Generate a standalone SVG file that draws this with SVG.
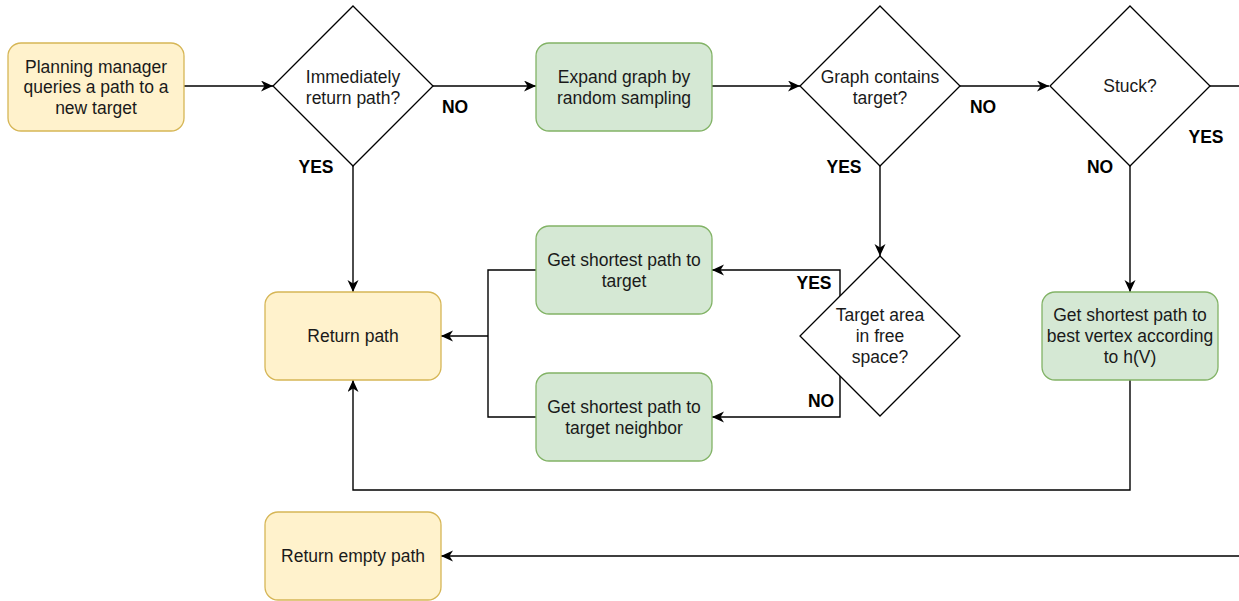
<svg xmlns="http://www.w3.org/2000/svg" width="1239" height="601" viewBox="0 0 1239 601">
<style>
  .y { fill: #fff2cc; stroke: #d6b656; stroke-width: 1.3; }
  .g { fill: #d5e8d4; stroke: #82b366; stroke-width: 1.3; }
  .d { fill: #ffffff; stroke: #000000; stroke-width: 1.3; }
  .t { font-family: "Liberation Sans", Arial, sans-serif; font-size: 17.5px; fill: #1a1a1a; text-anchor: middle; dominant-baseline: central; }
  .l { font-family: "Liberation Sans", Arial, sans-serif; font-size: 17.5px; font-weight: bold; fill: #000; text-anchor: middle; dominant-baseline: central; }
  .c { fill: none; stroke: #000; stroke-width: 1.4; marker-end: url(#arr); }
  .n { fill: none; stroke: #000; stroke-width: 1.4; }
</style>
<defs>
  <marker id="arr" markerUnits="userSpaceOnUse" markerWidth="14" markerHeight="12" refX="12" refY="5.5" orient="auto" viewBox="0 0 14 12">
    <path d="M0,0 L12,5.5 L0,11 L3.5,5.5 Z" fill="#000"/>
  </marker>
</defs>
<rect width="1239" height="601" fill="#ffffff"/>

<g id="connectors">
  <path class="c" d="M184,86 L273,86"/>
  <path class="c" d="M433,86 L536,86"/>
  <path class="c" d="M712,86 L800,86"/>
  <path class="c" d="M960,86 L1049,86"/>
  <path class="c" d="M353,166 L353,292"/>
  <path class="c" d="M880,166 L880,256"/>
  <path class="c" d="M1130,166 L1130,292"/>
  <path class="c" d="M1130,380 L1130,490 L353,490 L353,380"/>
  <path class="c" d="M840,296 L840,270 L712,270"/>
  <path class="c" d="M840,376 L840,417 L712,417"/>
  <path class="n" d="M536,270 L488,270 L488,417 L536,417"/>
  <path class="c" d="M488,336 L441,336"/>
  <path class="c" d="M1210,86 L1260,86 L1260,556 L441,556"/>
</g>

<g id="labels">
  <text class="l" x="455" y="107">NO</text>
  <text class="l" x="316" y="167">YES</text>
  <text class="l" x="844" y="167">YES</text>
  <text class="l" x="983" y="107">NO</text>
  <text class="l" x="1100" y="167">NO</text>
  <text class="l" x="1206" y="137">YES</text>
  <text class="l" x="814" y="283">YES</text>
  <text class="l" x="821" y="401">NO</text>
</g>

<g id="start">
  <rect class="y" x="8" y="43" width="176" height="88" rx="13" ry="13"/>
  <text class="t" x="96" y="66.5">Planning manager</text>
  <text class="t" x="96" y="87">queries a path to a</text>
  <text class="t" x="96" y="107.5">new target</text>
</g>

<g id="immediately">
  <polygon class="d" points="353,6 433,86 353,166 273,86"/>
  <text class="t" x="353" y="76.5">Immediately</text>
  <text class="t" x="353" y="97.5">return path?</text>
</g>

<g id="expand">
  <rect class="g" x="536" y="43" width="176" height="88" rx="13" ry="13"/>
  <text class="t" x="624" y="76.5">Expand graph by</text>
  <text class="t" x="624" y="97.5">random sampling</text>
</g>

<g id="contains">
  <polygon class="d" points="880,6 960,86 880,166 800,86"/>
  <text class="t" x="880" y="76.5">Graph contains</text>
  <text class="t" x="880" y="97.5">target?</text>
</g>

<g id="stuck">
  <polygon class="d" points="1130,6 1210,86 1130,166 1050,86"/>
  <text class="t" x="1130" y="86">Stuck?</text>
</g>

<g id="return-path">
  <rect class="y" x="265" y="292" width="176" height="88" rx="13" ry="13"/>
  <text class="t" x="353" y="336">Return path</text>
</g>

<g id="target">
  <rect class="g" x="536" y="226" width="176" height="88" rx="13" ry="13"/>
  <text class="t" x="624" y="259.5">Get shortest path to</text>
  <text class="t" x="624" y="280.5">target</text>
</g>

<g id="neighbor">
  <rect class="g" x="536" y="373" width="176" height="88" rx="13" ry="13"/>
  <text class="t" x="624" y="406.5">Get shortest path to</text>
  <text class="t" x="624" y="427.5">target neighbor</text>
</g>

<g id="free-space">
  <polygon class="d" points="880,256 960,336 880,416 800,336"/>
  <text class="t" x="880" y="315">Target area</text>
  <text class="t" x="880" y="336">in free</text>
  <text class="t" x="880" y="357">space?</text>
</g>

<g id="best-vertex">
  <rect class="g" x="1042" y="292" width="176" height="88" rx="13" ry="13"/>
  <text class="t" x="1130" y="315">Get shortest path to</text>
  <text class="t" x="1130" y="336">best vertex according</text>
  <text class="t" x="1130" y="357">to h(V)</text>
</g>

<g id="return-empty">
  <rect class="y" x="265" y="512" width="176" height="88" rx="13" ry="13"/>
  <text class="t" x="353" y="556">Return empty path</text>
</g>
</svg>
